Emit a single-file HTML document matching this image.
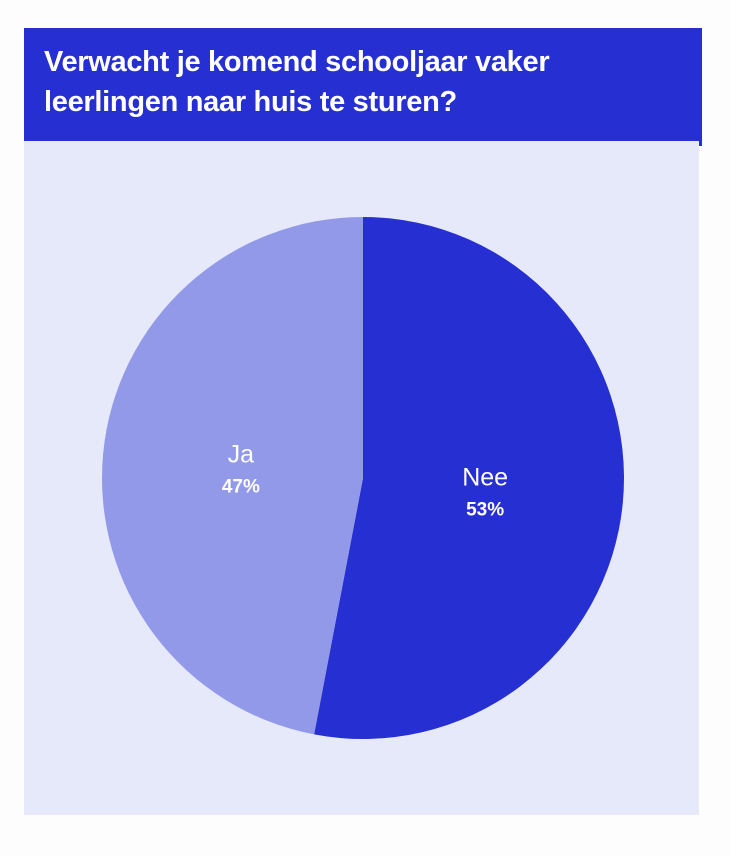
<!DOCTYPE html>
<html><head><meta charset="utf-8"><style>
body{margin:0;width:730px;height:856px;background:#fdfdfe;font-family:"Liberation Sans",sans-serif;position:relative;overflow:hidden}
#hdr{position:absolute;left:24px;top:28px;width:678px;height:113px;background:#262fd2}
#hdr h1{margin:0;position:absolute;left:20px;top:14px;color:#fff;font-size:29px;line-height:40px;font-weight:bold;letter-spacing:-0.3px}
#panel{position:absolute;left:24px;top:141px;width:675px;height:674px;background:#e6e9fa}
#tick{position:absolute;left:699px;top:141px;width:3px;height:5px;background:#262fd2}
svg{position:absolute;left:0;top:0}
</style></head><body>
<div id="hdr"><h1>Verwacht je komend schooljaar vaker<br>leerlingen naar huis te sturen?</h1></div>
<div id="panel"></div>
<div id="tick"></div>
<svg id="pie" width="730" height="856"></svg>
<script>
const categories=["Nee","Ja"];
const values=[53,47];
const colors=["#262fd2","#9299e8"];
const cx=363,cy=478,r=261;
const svg=document.getElementById('pie');
const NS="http://www.w3.org/2000/svg";
const total=values.reduce((a,b)=>a+b,0);
let start=0;
function pt(a,rr){return [cx+rr*Math.sin(a),cy-rr*Math.cos(a)];}
values.forEach((v,i)=>{
  const a0=start/total*2*Math.PI, a1=(start+v)/total*2*Math.PI;
  const p0=pt(a0,r),p1=pt(a1,r);
  const large=(a1-a0)>Math.PI?1:0;
  const path=document.createElementNS(NS,'path');
  path.setAttribute('d',`M${cx},${cy} L${p0[0]},${p0[1]} A${r},${r} 0 ${large} 1 ${p1[0]},${p1[1]} Z`);
  path.setAttribute('fill',colors[i]);
  
  
  svg.appendChild(path);
  const am=(a0+a1)/2;const lp=pt(am,r*0.47);
  const t1=document.createElementNS(NS,'text');
  t1.setAttribute('x',lp[0]);t1.setAttribute('y',lp[1]-4);
  t1.setAttribute('text-anchor','middle');t1.setAttribute('fill','#fff');t1.setAttribute('font-size','25');
  t1.textContent=categories[i];
  
  
  svg.appendChild(t1);
  const t2=document.createElementNS(NS,'text');
  t2.setAttribute('x',lp[0]);t2.setAttribute('y',lp[1]+26);
  t2.setAttribute('text-anchor','middle');t2.setAttribute('fill','#fff');t2.setAttribute('font-size','19');t2.setAttribute('font-weight','bold');
  t2.textContent=v+'%';
  
  
  svg.appendChild(t2);
  start+=v;
});
</script>
</body></html>
